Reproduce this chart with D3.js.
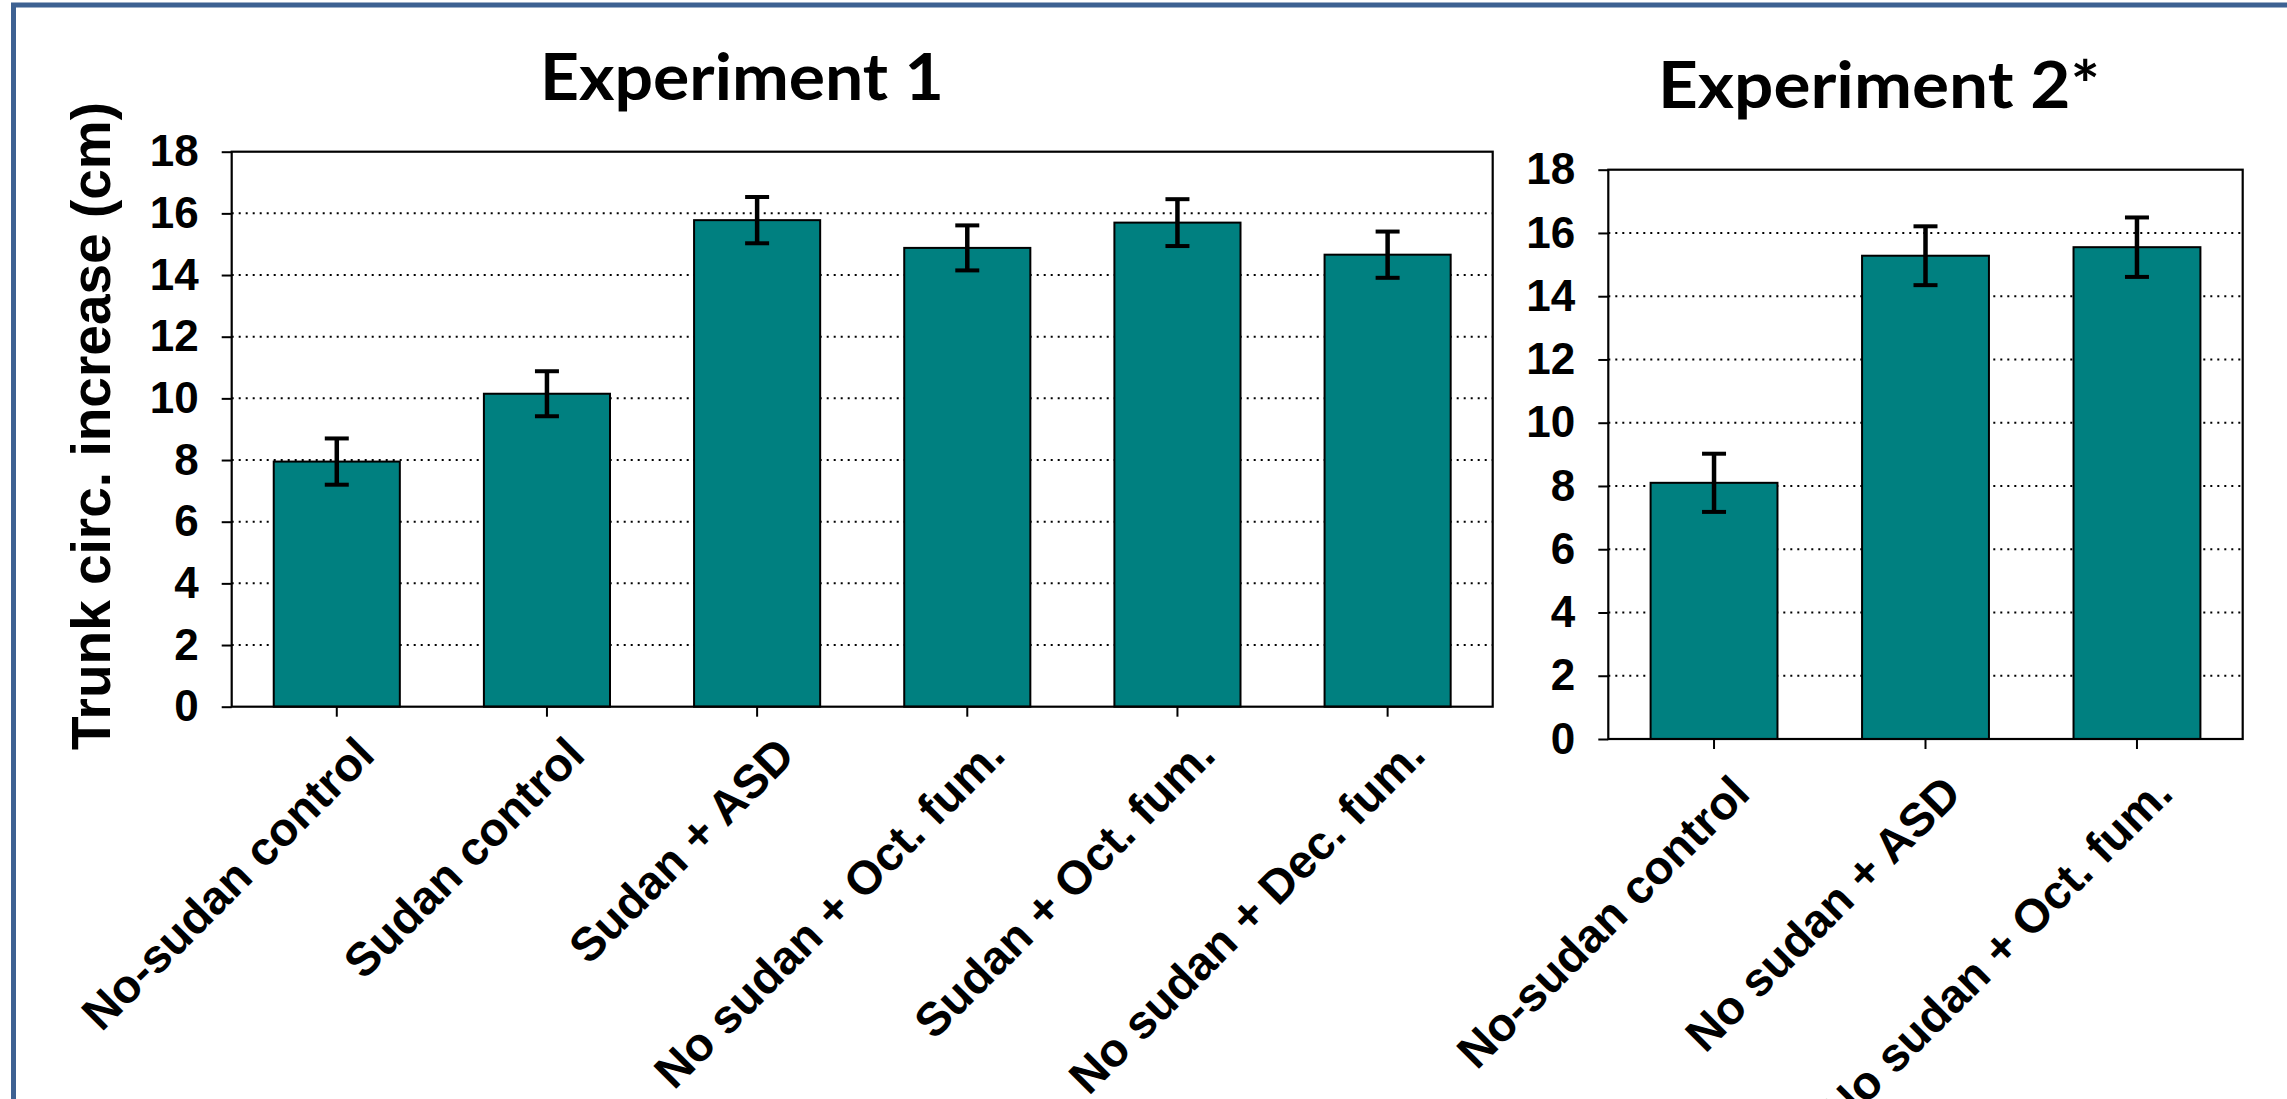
<!DOCTYPE html>
<html>
<head>
<meta charset="utf-8">
<script src="https://cdn.jsdelivr.net/npm/d3@7"></script>
<style>
  html, body { margin: 0; padding: 0; background: #fff; }
  svg { display: block; }
</style>
</head>
<body>
<svg id="chart" width="2287" height="1099"></svg>
<script>
// Trunk circumference increase, two field experiments
const exp1Categories = ["No-sudan control", "Sudan control", "Sudan + ASD",
                        "No sudan + Oct. fum.", "Sudan + Oct. fum.", "No sudan + Dec. fum."];
const exp1Means  = [7.95, 10.15, 15.78, 14.88, 15.70, 14.66];
const exp1Errors = [0.75, 0.73, 0.75, 0.73, 0.76, 0.75];

const exp2Categories = ["No-sudan control", "No sudan + ASD", "No sudan + Oct. fum."];
const exp2Means  = [8.10, 15.28, 15.55];
const exp2Errors = [0.92, 0.93, 0.94];

const yTicks = [0, 2, 4, 6, 8, 10, 12, 14, 16, 18];
const yMax = 18;

const svg = d3.select("#chart");
const AXIS_FONT = "'Liberation Sans', Arial, sans-serif";
const TITLE_FONT = "Lato, 'Open Sans', sans-serif";

// outer frame (runs off the right and bottom edges)
svg.append("rect")
  .attr("x", 13.5).attr("y", 5)
  .attr("width", 2400).attr("height", 1200)
  .attr("fill", "none")
  .attr("stroke", "#3d6192")
  .attr("stroke-width", 5);

function drawPanel(opts) {
  const { cats, means, errs, x0, x1, y0, y1, title, titleX, titleY, titleLen, labelDx, labelDy } = opts;
  const g = svg.append("g");

  const x = d3.scaleBand().domain(cats).range([x0, x1])
    .paddingInner(0.4).paddingOuter(0.2);
  const y = d3.scaleLinear().domain([0, yMax]).range([y1, y0]);

  // dotted horizontal gridlines
  g.append("g").selectAll("line")
    .data(yTicks.filter(t => t > 0 && t < yMax))
    .join("line")
    .attr("x1", x0).attr("x2", x1)
    .attr("y1", d => y(d)).attr("y2", d => y(d))
    .attr("stroke", "#000")
    .attr("stroke-width", 2)
    .attr("stroke-dasharray", "2 5");

  // bars
  g.append("g").selectAll("rect")
    .data(cats)
    .join("rect")
    .attr("x", d => x(d))
    .attr("width", x.bandwidth())
    .attr("y", (d, i) => y(means[i]))
    .attr("height", (d, i) => y(0) - y(means[i]))
    .attr("fill", "#008080")
    .attr("stroke", "#000")
    .attr("stroke-width", 2);

  // error bars
  const eb = g.append("g").attr("stroke", "#000").attr("fill", "none");
  const capW = 24;
  cats.forEach((c, i) => {
    const cx = x(c) + x.bandwidth() / 2;
    const hi = y(means[i] + errs[i]);
    const lo = y(means[i] - errs[i]);
    eb.append("line").attr("x1", cx).attr("x2", cx).attr("y1", hi).attr("y2", lo).attr("stroke-width", 4.5);
    eb.append("line").attr("x1", cx - capW / 2).attr("x2", cx + capW / 2).attr("y1", hi).attr("y2", hi).attr("stroke-width", 4);
    eb.append("line").attr("x1", cx - capW / 2).attr("x2", cx + capW / 2).attr("y1", lo).attr("y2", lo).attr("stroke-width", 4);
  });

  // plot frame
  g.append("rect")
    .attr("x", x0).attr("y", y0)
    .attr("width", x1 - x0).attr("height", y1 - y0)
    .attr("fill", "none").attr("stroke", "#000").attr("stroke-width", 2.2);

  // y axis
  const yAxis = g.append("g")
    .attr("transform", `translate(${x0},0)`)
    .call(d3.axisLeft(y).tickValues(yTicks).tickSize(10).tickPadding(23).tickFormat(d3.format("d")));
  yAxis.select(".domain").remove();
  yAxis.selectAll(".tick line").attr("stroke", "#000").attr("stroke-width", 2);
  yAxis.selectAll(".tick text")
    .attr("font-family", AXIS_FONT).attr("font-weight", "bold")
    .attr("font-size", 44).attr("fill", "#000");

  // x axis ticks
  const xAxis = g.append("g")
    .attr("transform", `translate(0,${y1})`)
    .call(d3.axisBottom(x).tickSize(10).tickFormat(""));
  xAxis.select(".domain").remove();
  xAxis.selectAll(".tick line").attr("stroke", "#000").attr("stroke-width", 2);

  // rotated category labels
  g.append("g").selectAll("text")
    .data(cats)
    .join("text")
    .attr("transform", d => `translate(${x(d) + x.bandwidth() / 2 + labelDx},${y1 + labelDy}) rotate(-45)`)
    .attr("text-anchor", "end")
    .attr("dy", "0.72em")
    .attr("font-family", AXIS_FONT).attr("font-weight", "bold")
    .attr("font-size", 47).attr("fill", "#000")
    .text(d => d);

  // panel title
  svg.append("text")
    .attr("x", titleX).attr("y", titleY)
    .attr("text-anchor", "middle")
    .attr("font-family", TITLE_FONT).attr("font-weight", 700)
    .attr("font-size", 65)
    .attr("textLength", titleLen).attr("lengthAdjust", "spacingAndGlyphs")
    .attr("fill", "#000")
    .text(title);
}

drawPanel({
  cats: exp1Categories, means: exp1Means, errs: exp1Errors,
  x0: 231.7, x1: 1492.7, y0: 151.7, y1: 706.7,
  title: "Experiment 1", titleX: 742, titleY: 100, titleLen: 404,
  labelDx: 16, labelDy: 27
});

drawPanel({
  cats: exp2Categories, means: exp2Means, errs: exp2Errors,
  x0: 1608.3, x1: 2242.7, y0: 169.7, y1: 739,
  title: "Experiment 2*", titleX: 1879, titleY: 108, titleLen: 442,
  labelDx: 14, labelDy: 33
});

// shared y axis title
svg.append("text")
  .attr("transform", "translate(110,426) rotate(-90)")
  .attr("text-anchor", "middle")
  .attr("font-family", AXIS_FONT).attr("font-weight", "bold")
  .attr("font-size", 55).attr("fill", "#000")
  .text("Trunk circ. increase (cm)");
</script>
</body>
</html>
